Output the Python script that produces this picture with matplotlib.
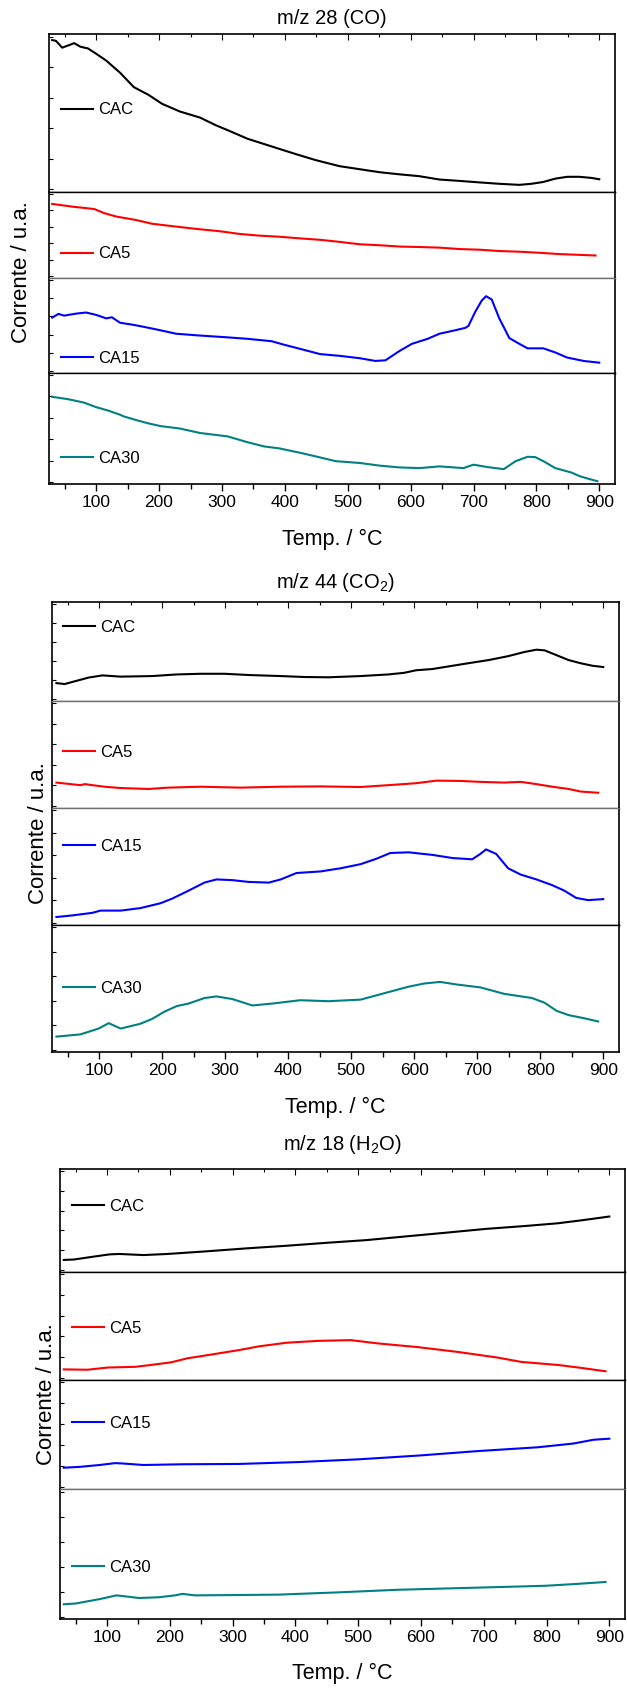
import matplotlib
matplotlib.use("Agg")
import matplotlib.pyplot as plt
from matplotlib import font_manager
from matplotlib.ticker import MultipleLocator

_names = {f.name for f in font_manager.fontManager.ttflist}
FONT = "Liberation Sans Narrow" if "Liberation Sans Narrow" in _names else "Liberation Sans"
plt.rcParams["font.family"] = [FONT, "DejaVu Sans"]
plt.rcParams["mathtext.default"] = "regular"

SAMPLES = ["CAC", "CA5", "CA15", "CA30"]
COLORS = ["black", "red", "blue", "#008080"]

# ---- m/z 28 (CO) : temperature (°C) / current (a.u., 0-100 per layer)
co_cac_t = [30, 36, 46, 59, 65, 75, 87, 100, 116, 138, 160, 183, 205, 233, 265, 290, 313, 341, 379, 417,
            449, 487, 519, 551, 583, 614, 646, 678, 710, 741, 773, 792, 811, 830, 849, 868, 887, 900]
co_cac_i = [98, 97.5, 93, 95, 96, 93.6, 92.5, 89, 84.5, 76.5, 67, 62, 56, 51, 47, 42, 38, 33, 28, 23,
            19, 15, 13, 11, 9.6, 8.4, 6.2, 5.3, 4.3, 3.4, 2.7, 3.4, 4.6, 6.8, 8, 8, 7.3, 6.4]
co_ca5_t = [30, 62, 97, 113, 132, 163, 189, 221, 259, 297, 329, 360, 392, 424, 456, 487, 519, 551, 583,
            614, 646, 678, 710, 741, 773, 805, 837, 868, 894]
co_ca5_i = [87.6, 84.3, 81.4, 76.4, 72.3, 68.2, 63.6, 60.7, 57.4, 54.5, 51.2, 49.2, 47.9, 45.9, 44.2, 41.7,
            38.8, 37.6, 36, 35.5, 34.7, 33, 32.2, 30.6, 29.8, 28.5, 26.9, 26, 25.2]
co_ca15_t = [30, 40, 49, 68, 84, 100, 116, 125, 138, 157, 176, 202, 227, 265, 303, 341, 379, 398, 425, 456,
             487, 519, 544, 560, 583, 602, 627, 646, 671, 687, 692, 703, 713, 720, 729, 741, 757, 773, 786,
             811, 830, 849, 875, 900]
co_ca15_i = [58.6, 62.7, 60.8, 63, 64.2, 61.6, 57.8, 59, 53, 51, 48.5, 44.8, 41, 39, 37.3, 35.4, 32.8, 29.1,
             24.3, 18.7, 16.8, 14.2, 11.2, 11.9, 22.4, 29.9, 35.4, 41, 44.8, 47.4, 49.6, 65.3, 77.2, 82.1,
             78.4, 57.8, 36.2, 29.9, 25, 25, 20.5, 14.9, 11.2, 9.3]
co_ca30_t = [30, 56, 81, 100, 119, 138, 144, 163, 183, 202, 233, 265, 309, 341, 367, 392, 430, 481, 519,
             551, 583, 614, 646, 684, 700, 722, 748, 767, 786, 798, 811, 830, 856, 868, 881, 897]
co_ca30_i = [79.7, 77.4, 74.2, 70, 66.8, 62.9, 61.3, 58, 54.8, 52.3, 50, 45.8, 42.6, 37.1, 33.2, 31.3, 26.5,
             19.4, 17.7, 15.2, 13.5, 12.9, 14.5, 12.9, 16.1, 13.9, 11.9, 19.4, 23.5, 23.2, 19.4, 12.9, 8.7,
             5.5, 3.2, 0.6]

# ---- m/z 44 (CO2)
co2_cac_t = [32, 45, 64, 83, 105, 134, 184, 223, 261, 299, 337, 388, 426, 464, 515, 559, 584, 603, 629,
             654, 686, 718, 749, 775, 794, 807, 826, 845, 864, 883, 900]
co2_cac_i = [16.8, 15.8, 19.2, 22.6, 24.9, 23.6, 24.2, 25.9, 26.6, 26.6, 25.3, 24.2, 23.2, 22.9, 24.2, 25.9,
             27.6, 30.3, 31.6, 34.3, 37.7, 41, 45.1, 49.5, 51.9, 51.2, 46.1, 41, 37.7, 35, 33.7]
co2_ca5_t = [32, 70, 77, 108, 134, 178, 210, 261, 324, 388, 451, 515, 559, 603, 635, 673, 705, 743, 769,
             794, 819, 845, 864, 892]
co2_ca5_i = [22.7, 20.2, 21.2, 18.7, 17.4, 16.5, 17.8, 18.7, 17.8, 18.7, 19, 18.4, 20.2, 22.1, 24.6, 24.3,
             23.4, 22.7, 23.4, 21.2, 18.7, 16.5, 14, 12.8]
co2_ca15_t = [32, 57, 89, 102, 134, 165, 197, 216, 242, 267, 286, 311, 337, 369, 388, 413, 451, 483, 515,
              540, 562, 591, 629, 661, 692, 705, 714, 730, 749, 769, 794, 819, 838, 857, 876, 900]
co2_ca15_i = [5.1, 6.5, 8.8, 10.8, 10.8, 13, 17.3, 21.5, 28.6, 35.7, 38.5, 37.9, 36.3, 35.7, 38.5, 44.2,
              45.6, 48.4, 52.1, 56.9, 62, 62.6, 60.3, 57.5, 56.4, 61.2, 65.2, 61.2, 48.4, 42.8, 38.5, 33.4,
              28.6, 22.1, 20.1, 21]
co2_ca30_t = [32, 70, 99, 115, 134, 165, 184, 203, 223, 242, 267, 286, 311, 343, 375, 419, 464, 515, 553,
              591, 616, 641, 667, 705, 743, 787, 807, 826, 845, 870, 892]
co2_ca30_i = [10.6, 12.4, 17.2, 21.6, 17.2, 21.1, 25.1, 30.9, 35.6, 37.7, 42.2, 43.5, 41.4, 36.1, 37.7, 40.4,
              39.6, 40.9, 46.2, 51.5, 54.1, 55.4, 53.3, 50.9, 45.6, 42.2, 38.3, 31.7, 28.2, 25.6, 23]

# ---- m/z 18 (H2O)
h2o_cac_t = [31, 47, 75, 104, 120, 158, 196, 259, 323, 386, 450, 513, 577, 640, 703, 767, 818, 856, 900]
h2o_cac_i = [10.2, 10.6, 13.2, 15.8, 16.2, 15.1, 16.2, 18.9, 21.9, 24.5, 27.5, 30.2, 34, 37.7, 41.5, 44.5,
             47.2, 50.2, 54]
h2o_ca5_t = [31, 69, 101, 145, 170, 202, 228, 266, 310, 342, 386, 437, 488, 532, 596, 659, 722, 760, 818,
             856, 894]
h2o_ca5_i = [8.2, 7.9, 10, 10.7, 12.5, 15, 18.9, 22.5, 26.8, 30.4, 33.9, 35.7, 36.4, 33.2, 29.6, 25, 19.6,
             15.4, 12.5, 9.6, 6.4]
h2o_ca15_t = [31, 56, 88, 113, 126, 158, 221, 310, 405, 500, 596, 691, 786, 843, 875, 900]
h2o_ca15_i = [18.3, 19.1, 20.9, 22.7, 22.3, 20.9, 21.6, 21.9, 23.7, 26.3, 29.9, 34.2, 37.8, 41.4, 45, 46]
h2o_ca30_t = [31, 50, 88, 115, 151, 183, 208, 220, 240, 310, 373, 468, 564, 691, 799, 849, 894]
h2o_ca30_i = [9.8, 10.4, 13.9, 16.9, 14.8, 15.4, 16.9, 18.1, 16.9, 17.2, 17.5, 19.3, 21.4, 23.1, 24.6,
              26.1, 27.6]

W, H = 627, 1688
GRAY = "#6e6e6e"
fig = plt.figure(figsize=(W / 100, H / 100), dpi=100)


def add_panel(title, curves, left, right, edges, title_y, xlab_y, ylab_xy, leg_y, leg_dx, seps):
    for k in range(4):
        top, bot = edges[k], edges[k + 1]
        ax = fig.add_axes([left / W, 1 - bot / H, (right - left) / W, (bot - top) / H])
        t, i = curves[k]
        ln, = ax.plot(t, i, color=COLORS[k], lw=1.5, label=SAMPLES[k])
        ax.set_xlim(25, 925)
        ax.set_ylim(-2, 102)
        ax.xaxis.set_major_locator(MultipleLocator(100))
        ax.xaxis.set_minor_locator(MultipleLocator(50))
        ax.yaxis.set_major_locator(MultipleLocator(20))
        ax.tick_params(axis="y", which="both", direction="in", length=3, width=0.8,
                       left=True, right=False, labelleft=False)
        if k == 0:
            ax.tick_params(axis="x", which="both", direction="in", top=True, bottom=False,
                           labelbottom=False, width=0.8)
            ax.tick_params(axis="x", which="major", length=4)
            ax.tick_params(axis="x", which="minor", length=2.5)
        elif k == 3:
            ax.tick_params(axis="x", which="both", direction="out", top=False, bottom=True,
                           labelbottom=True, width=1.0, labelsize=12.5, pad=3)
            ax.tick_params(axis="x", which="major", length=5)
            ax.tick_params(axis="x", which="minor", length=3.5)
        else:
            ax.tick_params(axis="x", which="both", top=False, bottom=False, labelbottom=False)
        for s in ax.spines.values():
            s.set_linewidth(1.2)
        if k < 3:
            ax.spines["bottom"].set_color(seps[k])
            ax.spines["bottom"].set_linewidth(1.0)
        if k > 0:
            ax.spines["top"].set_color(seps[k - 1])
            ax.spines["top"].set_linewidth(1.0)
        ax.legend(handles=[ln], loc="center left", bbox_to_anchor=(leg_dx / (right - left), leg_y[k]),
                  frameon=False, borderaxespad=0, borderpad=0, handlelength=1.9,
                  handletextpad=0.3, fontsize=12)
    cx = (left + right) / 2 / W
    fig.text(cx, 1 - title_y / H, title, ha="center", va="center", fontsize=14.5)
    fig.text(cx, 1 - xlab_y / H, "Temp. / °C", ha="center", va="center", fontsize=15.5)
    fig.text(ylab_xy[0] / W, 1 - ylab_xy[1] / H, "Corrente / u.a.", rotation=90,
             ha="center", va="center", fontsize=16)


add_panel("m/z 28 (CO)",
          [(co_cac_t, co_cac_i), (co_ca5_t, co_ca5_i), (co_ca15_t, co_ca15_i), (co_ca30_t, co_ca30_i)],
          49, 615, [34, 192, 278, 373, 484], 18, 539, (22, 272),
          [0.52, 0.28, 0.15, 0.23], 12, ["black", GRAY, "black"])
add_panel("m/z 44 (CO$_2$)",
          [(co2_cac_t, co2_cac_i), (co2_ca5_t, co2_ca5_i), (co2_ca15_t, co2_ca15_i), (co2_ca30_t, co2_ca30_i)],
          52, 619, [602, 701, 808, 925, 1052], 582, 1107, (38, 833),
          [0.74, 0.52, 0.675, 0.50], 11, [GRAY, GRAY, "black"])
add_panel("m/z 18 (H$_2$O)",
          [(h2o_cac_t, h2o_cac_i), (h2o_ca5_t, h2o_ca5_i), (h2o_ca15_t, h2o_ca15_i), (h2o_ca30_t, h2o_ca30_i)],
          60, 625, [1169, 1272, 1380, 1489, 1619], 1144, 1673, (47, 1394),
          [0.64, 0.48, 0.60, 0.40], 12, ["black", "black", GRAY])

fig.savefig("out.png", dpi=100)
